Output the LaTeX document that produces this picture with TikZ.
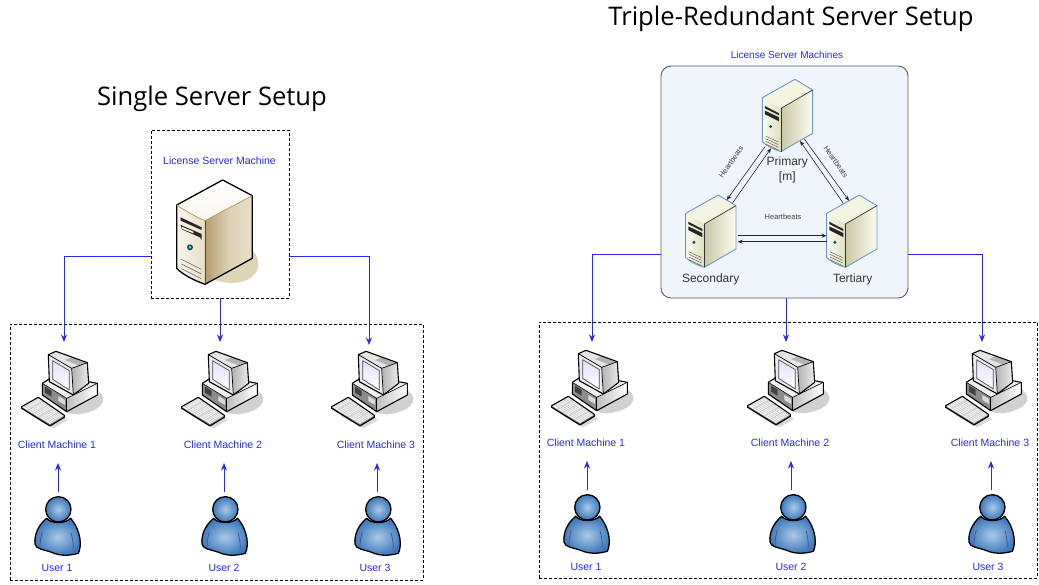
\documentclass[tikz,border=0pt]{standalone}
\usepackage{fontspec}
\setmainfont{Liberation Sans}
\newfontfamily\titlefont{Open Sans}
\usetikzlibrary{arrows.meta,calc}
\definecolor{lblue}{RGB}{40,40,245}
\definecolor{panelfill}{RGB}{240,244,251}
\definecolor{tanA}{RGB}{250,246,236}
\definecolor{tanB}{RGB}{222,208,178}
\definecolor{tanC}{RGB}{178,156,112}
\definecolor{tanD}{RGB}{232,222,200}
\definecolor{tanS}{RGB}{222,212,182}
\definecolor{srvA}{RGB}{252,252,240}
\definecolor{srvB}{RGB}{222,222,190}
\definecolor{srvC}{RGB}{200,200,165}
\definecolor{srvT}{RGB}{244,244,226}
\definecolor{srvE}{RGB}{110,150,200}
\definecolor{usrI}{RGB}{170,200,232}
\definecolor{usrO}{RGB}{60,120,185}
\tikzset{
  x=1pt,y=-1pt,
  ttl/.style={font=\titlefont\fontsize{25.6}{30}\selectfont,text=black,inner sep=0},
  lbl/.style={font=\fontsize{10.5}{12}\selectfont,text=lblue,inner sep=0},
  srvlbl/.style={font=\fontsize{12}{14}\selectfont,text=black!80,inner sep=0},
  hb/.style={font=\fontsize{7.5}{9}\selectfont,text=black!75,inner sep=0},
  dbox/.style={draw=black,densely dashed,line width=.5pt,inner sep=0,fill=none},
  conn/.style={draw=lblue,line width=.9pt,-{Stealth[length=7.5pt,width=6pt]}},
  hbarrow/.style={draw=black!85,line width=.6pt,-{Stealth[length=5pt,width=4pt]}},
  pics/bigserver/.style={code={
    \begin{scope}[x=.3333pt,y=-.3333pt]
      \fill[tanS] (170,440) .. controls (240,475) and (320,460) .. (325,405) .. controls (325,380) and (315,365) .. (295,350) -- cycle;
      \shade[left color=tanA,right color=tanD] (82,228) -- (165,272) -- (165,463) .. controls (130,450) and (100,435) .. (80,415) -- cycle;
      \shade[left color=tanC,right color=tanD,middle color=tanB] (165,272) -- (307,197) -- (307,385) -- (165,463) -- cycle;
      \shade[top color=white,bottom color=tanA] (80,225) -- (218,150) -- (307,197) -- (165,272) -- cycle;
      \draw[line width=1.3pt,black,line join=round] (80,225) -- (218,150) -- (307,197) -- (307,385) -- (165,463) .. controls (130,450) and (100,435) .. (80,415) -- cycle;
      \draw[line width=.8pt,tanC] (80,225) .. controls (110,245) and (140,262) .. (165,272) -- (307,197);
      \draw[line width=.7pt,black!70] (165,272) -- (165,463);
      \fill[black!85] (92,262) -- (155,292) -- (155,300) -- (92,272) -- cycle;
      \fill[black!85] (92,285) -- (155,312) -- (155,330) -- (150,322) -- (95,298) -- cycle;
      \fill[tanA] (95,290) -- (130,305) -- (130,310) -- (95,296) -- cycle;
      \fill[teal!70!black] (120,352) circle (9);
      \fill[teal!40!white] (120,352) circle (4);
      \foreach \yy in {0,14,28} \draw[line width=.6pt,black!60] (94,388+\yy) -- (154,418+\yy);
    \end{scope}}},
  pics/smallserver/.style={code={
    \begin{scope}[x=.3333pt,y=-.3333pt]
      \shade[left color=srvA,right color=srvB] (322,113) -- (378,145) -- (378,275) .. controls (355,268) and (335,258) .. (322,245) -- cycle;
      \shade[left color=srvC,right color=srvA] (378,145) -- (473,90) -- (473,220) -- (378,275) -- cycle;
      \fill[srvT] (322,113) -- (420,58) -- (473,90) -- (378,145) -- cycle;
      \draw[line width=.9pt,srvE,line join=round] (322,113) -- (420,58) -- (473,90) -- (473,220) -- (378,275) .. controls (355,268) and (335,258) .. (322,245) -- cycle;
      \draw[line width=.7pt,black!80] (378,145) -- (473,90);
      \draw[line width=.7pt,black!80] (378,145) -- (378,275);
      \fill[black!85] (330,138) -- (372,160) -- (372,166) -- (330,145) -- cycle;
      \fill[black!85] (330,152) -- (372,172) -- (372,184) -- (330,163) -- cycle;
      \fill[teal!70!black] (347,200) circle (5);
      \foreach \yy in {0,8,16,24} \draw[line width=.4pt,black!70] (332,228+\yy) -- (370,246+\yy);
    \end{scope}}},
  pics/client/.style={code={
    \begin{scope}[x=.3333pt,y=-.3333pt,line join=round]
      \fill[black!18] (230,140) .. controls (290,150) and (300,195) .. (240,215) .. controls (210,225) and (190,225) .. (170,218) -- cycle;
      \fill[black!15] (60,225) -- (130,265) -- (175,240) -- (120,200) -- cycle;
      \fill[black!45] (97,130) -- (170,175) -- (170,215) -- (97,165) -- cycle;
      \shade[left color=black!25,right color=white] (170,175) -- (262,130) -- (262,165) -- (170,215) -- cycle;
      \fill[black!6] (97,130) -- (125,112) -- (262,130) -- (170,175) -- cycle;
      \fill[black!75] (105,140) -- (125,152) -- (125,170) -- (105,158) -- cycle;
      \fill[black!15] (145,168) -- (165,180) -- (165,195) -- (145,183) -- cycle;
      \draw[line width=1.1pt] (97,130) -- (125,112) -- (235,125) -- (262,130) -- (262,165) -- (170,215) -- (97,165) -- cycle;
      \draw[line width=.6pt] (97,130) -- (170,175) -- (262,130);
      \draw[line width=.6pt] (170,175) -- (170,215);
      \shade[left color=black!30,right color=black!8] (185,85) -- (232,68) -- (236,130) -- (190,165) -- cycle;
      \fill[black!10] (115,44) -- (138,34) -- (232,68) -- (185,85) -- cycle;
      \fill[black!30] (185,52) -- (225,68) -- (205,76) -- (165,60) -- cycle;
      \fill[black!8] (115,44) -- (185,85) -- (190,165) -- (118,125) -- cycle;
      \shade[top color=blue!12!white,bottom color=white] (128,62) -- (178,92) -- (178,150) -- (128,118) -- cycle;
      \draw[line width=.7pt,black!70] (128,62) -- (178,92) -- (178,150) -- (128,118) -- cycle;
      \draw[line width=1.1pt] (115,44) -- (138,34) -- (232,68) -- (236,130) -- (190,165) -- (118,125) -- cycle;
      \draw[line width=.7pt] (115,44) -- (185,85) -- (190,165);
      \draw[line width=.7pt] (185,85) -- (232,68);
      \fill[black!55] (35,205) -- (120,258) -- (163,232) -- (163,226) -- (120,252) -- (35,200) -- cycle;
      \fill[black!5] (35,200) -- (85,172) -- (163,226) -- (120,252) -- cycle;
      \begin{scope}
        \clip (35,200) -- (85,172) -- (163,226) -- (120,252) -- cycle;
        \foreach \d in {1,...,4} \draw[black!25,line width=.35pt] ($(35,200)!\d/5!(120,252)$) -- ($(85,172)!\d/5!(163,226)$);
        \foreach \d in {1,...,8} \draw[black!25,line width=.35pt] ($(35,200)!\d/9!(85,172)$) -- ($(120,252)!\d/9!(163,226)$);
      \end{scope}
      \draw[line width=1.1pt] (35,200) -- (85,172) -- (163,226) -- (163,232) -- (120,258) -- (35,205) -- cycle;
    \end{scope}}},
  pics/person/.style={code={
    \begin{scope}[x=.3333pt,y=-.3333pt]
      \path[draw=black,line width=1.3pt,inner color=usrI,outer color=usrO]
        (110,535) .. controls (85,555) and (72,585) .. (75,612) .. controls (78,628) and (100,628) .. (125,637) .. controls (150,648) and (175,648) .. (205,640) .. controls (215,620) and (215,575) .. (182,535) .. controls (165,552) and (125,552) .. (110,535) -- cycle;
      \draw[line width=.7pt,blue!40!black!70] (97,575) .. controls (93,590) and (90,605) .. (90,620);
      \draw[line width=.7pt,blue!40!black!70] (183,578) .. controls (188,595) and (190,610) .. (190,628);
      \path[draw=black,line width=1.3pt,inner color=usrI,outer color=usrO] (145,508) circle (38);
    \end{scope}}}
}
\begin{document}
\begin{tikzpicture}
\useasboundingbox (0,0) rectangle (1039,584);
\fill[white] (0,0) rectangle (1039,584);

\node[ttl] (t1) at (212,99) {Single Server Setup};
\node[ttl] (t2) at (791,19) {Triple-Redundant Server Setup};

\node[dbox,minimum width=138pt,minimum height=168pt] (lbox) at (220,214) {};
\node[dbox,minimum width=413pt,minimum height=256pt] (lclients) at (216.5,452) {};
\node[lbl] (llab) at (219.5,161) {License Server Machine};
\pic at (150,130) {bigserver};

\node[draw=black!65,line width=.9pt,rounded corners=10pt,fill=panelfill,minimum width=247pt,minimum height=232pt,inner sep=0] (panel) at (784.5,182) {};
\node[dbox,minimum width=498pt,minimum height=256pt] (rclients) at (788,450) {};
\node[lbl,font=\fontsize{10}{12}\selectfont] (rlab) at (787,55) {License Server Machines};

\coordinate (prim) at (655,60);
\coordinate (sec) at (578.3,175.7);
\coordinate (ter) at (719.3,175.7);
\pic at (prim) {smallserver};
\pic at (sec) {smallserver};
\pic at (ter) {smallserver};
\node[srvlbl] (pl) at (787.3,162) {Primary};
\node[srvlbl] (pm) at (787.3,177) {[m]};
\node[srvlbl] (sl) at (710.7,279) {Secondary};
\node[srvlbl] (tl) at (852.7,279) {Tertiary};

\draw[hbarrow] ([shift={(110,86.7)}]prim) -- ([shift={(71.7,140)}]prim);
\draw[hbarrow] ([shift={(77.3,143.3)}]prim) -- ([shift={(116,88.3)}]prim);
\draw[hbarrow] ([shift={(149.3,79)}]prim) -- ([shift={(194,140.7)}]prim);
\draw[hbarrow] ([shift={(188.3,143.3)}]prim) -- ([shift={(145,81)}]prim);
\draw[hbarrow] ([shift={(82.7,175.7)}]prim) -- ([shift={(171.7,175.7)}]prim);
\draw[hbarrow] ([shift={(171.7,181.7)}]prim) -- ([shift={(82.7,181.7)}]prim);
\node[hb,rotate=55] (h1) at (731,162) {Heartbeats};
\node[hb,rotate=-55] (h2) at (836,162) {Heartbeats};
\node[hb] (h3) at (783,217) {Heartbeats};

\foreach \n/\dx/\dy in {lc1/0/0,lc2/160/0,lc3/310/0,rc1/530/-1,rc2/726/-1,rc3/924/-1}{
  \pic at (10+\dx,340+\dy) {client};
}
\foreach \n/\dx/\dy in {lu1/0/0,lu2/167/0,lu3/320/0,ru1/529/-2,ru2/735/-2,ru3/934/-2}{
  \pic at (10+\dx,340+\dy) {person};
}

\node[lbl] (cl1) at (57,445) {Client Machine 1};
\node[lbl] (cl2) at (223,445) {Client Machine 2};
\node[lbl] (cl3) at (376,445) {Client Machine 3};
\node[lbl] (cr1) at (586,443) {Client Machine 1};
\node[lbl] (cr2) at (790,443) {Client Machine 2};
\node[lbl] (cr3) at (990,443) {Client Machine 3};
\node[lbl] (ul1) at (57,568) {User 1};
\node[lbl] (ul2) at (224,568) {User 2};
\node[lbl] (ul3) at (375,568) {User 3};
\node[lbl] (ur1) at (586,567) {User 1};
\node[lbl] (ur2) at (791,567) {User 2};
\node[lbl] (ur3) at (988,567) {User 3};

\coordinate (a1) at (58,492); \coordinate (a1t) at (58,463);
\coordinate (a2) at (224,492); \coordinate (a2t) at (224,463);
\coordinate (a3) at (377,492); \coordinate (a3t) at (377,463);
\coordinate (a4) at (587,490); \coordinate (a4t) at (587,461);
\coordinate (a5) at (791,490); \coordinate (a5t) at (791,461);
\coordinate (a6) at (991,490); \coordinate (a6t) at (991,461);
\foreach \a/\b in {a1/a1t,a2/a2t,a3/a3t,a4/a4t,a5/a5t,a6/a6t} \draw[conn] (\a) -- (\b);

\coordinate (l1) at (64,342);
\coordinate (l2) at (220,342);
\coordinate (l3) at (369,345);
\coordinate (r1) at (592,342);
\coordinate (r2) at (786,342);
\coordinate (r3) at (982,342);
\draw[conn] ([yshift=-42pt]lbox.west) -| (l1);
\draw[conn] (lbox.south -| l2) -- (l2);
\draw[conn] ([yshift=-42pt]lbox.east) -| (l3);
\draw[conn] ([yshift=-72pt]panel.west) -| (r1);
\draw[conn] (panel.south -| r2) -- (r2);
\draw[conn] ([yshift=-72pt]panel.east) -| (r3);
\end{tikzpicture}
\end{document}
